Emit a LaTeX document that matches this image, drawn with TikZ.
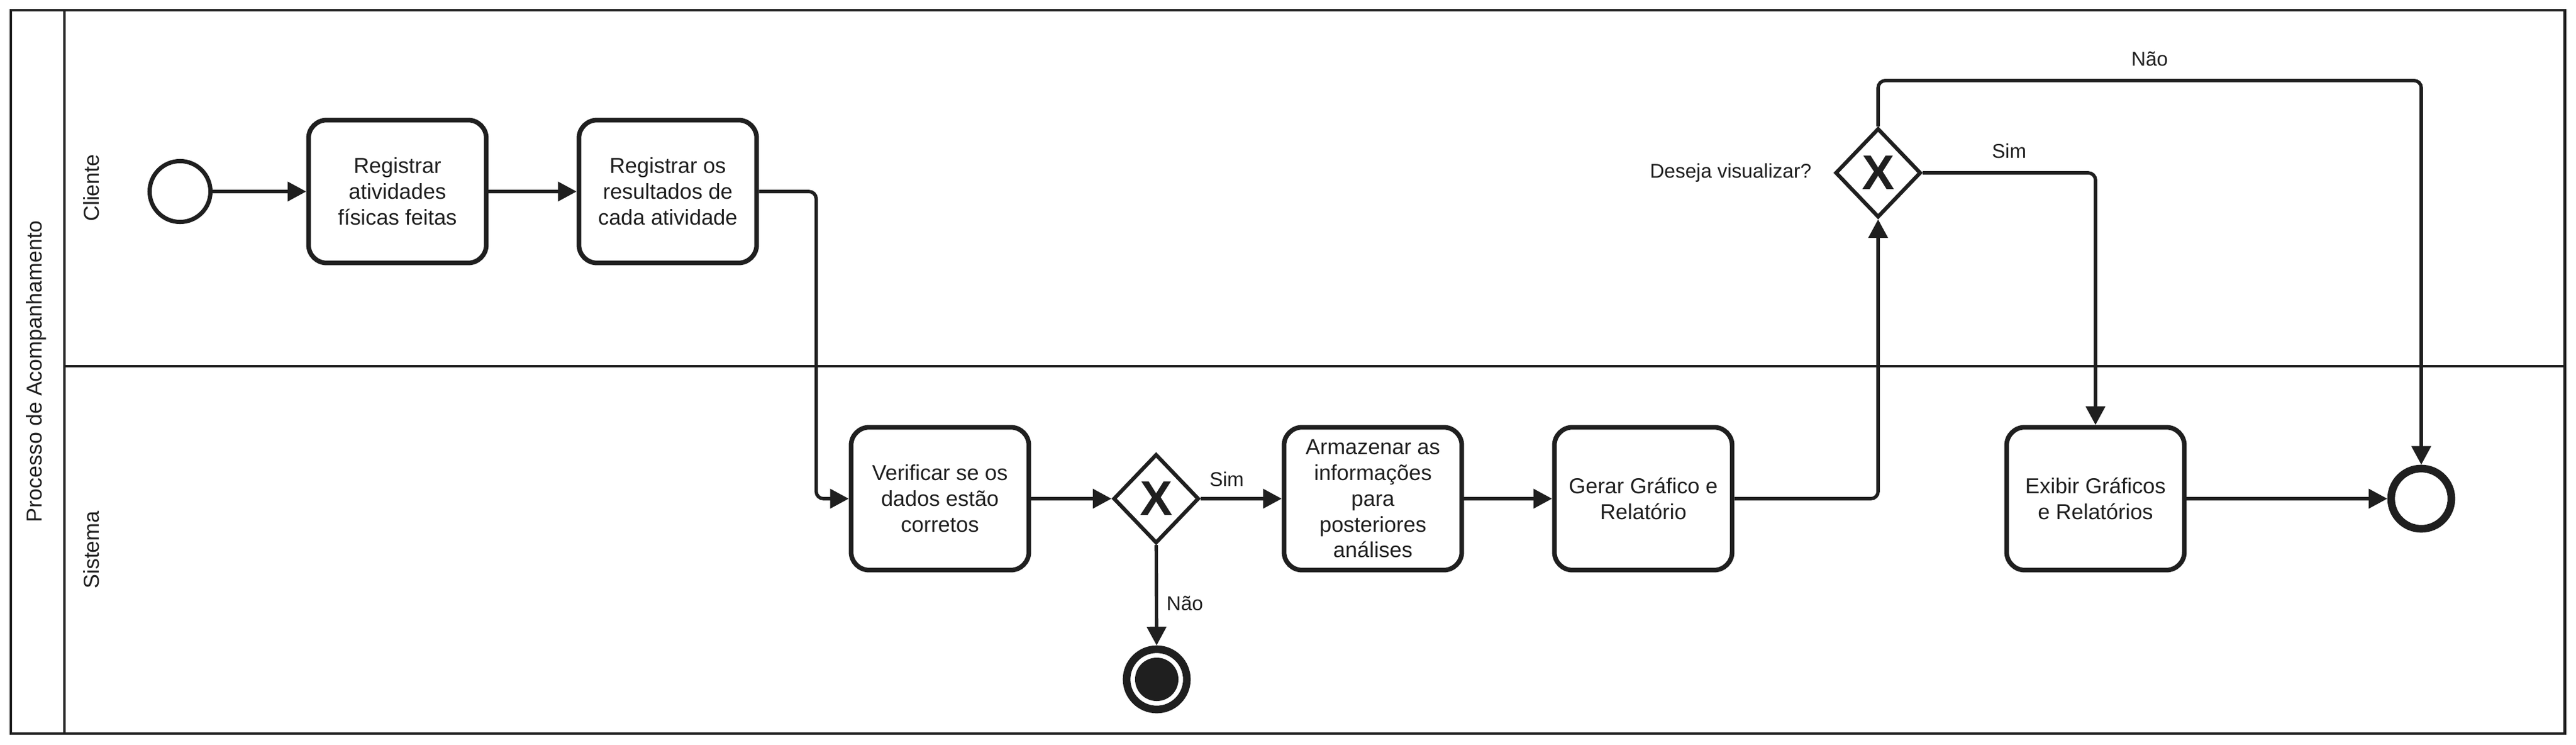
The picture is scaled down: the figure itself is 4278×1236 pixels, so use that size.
\documentclass[tikz,border=0pt]{standalone}
\usepackage{fontspec}
\setmainfont{Liberation Sans}
\usetikzlibrary{shapes.geometric,arrows.meta,positioning}
\definecolor{ink}{HTML}{1F1F1F}
\tikzset{
	task/.style={draw=ink, line width=2.2pt, rounded corners=0.3cm, minimum width=2.95cm, minimum height=2.37cm, align=center, text=ink, inner sep=0pt, font=\fontsize{10.2}{12.2}\selectfont},
	gateway/.style={draw=ink, line width=1.8pt, diamond, aspect=1, minimum width=1.42cm, minimum height=1.48cm, inner sep=0pt, text=ink, font=\fontsize{23}{23}\bfseries\selectfont},
	event/.style={draw=ink, circle, inner sep=0pt, line width=2pt, minimum size=1.01cm},
	endevent/.style={event, line width=3.6pt, minimum size=1.0cm},
	flow/.style={draw=ink, line width=1.6pt, rounded corners=0.12cm, -{Triangle[length=8.8pt,width=9pt]}},
	lbl/.style={text=ink, inner sep=2pt, font=\fontsize{9.4}{11}\selectfont},
	lanelbl/.style={text=ink, rotate=90, font=\fontsize{10.2}{12}\selectfont}
}
\begin{document}
\begin{tikzpicture}[x=0.01cm,y=-0.01cm]
		\useasboundingbox (0,0) rectangle (4278,1236);
		
		% pool and lanes
		\draw[ink, line width=1.4pt] (18,17) rectangle (4259,1218);
		\draw[ink, line width=1.4pt] (107,17) -- (107,1218);
		\draw[ink, line width=1.4pt] (107,608) -- (4259,608);
		
		\node[lanelbl] (pool) at (60,617) {Processo de Acompanhamento};
		\node[lanelbl] (cliente) at (152,312) {Cliente};
		\node[lanelbl] (sistema) at (152,913) {Sistema};
		
		% Cliente
		\node[event] (start) at (299,318) {};
		\node[task] (t1) at (660,318) {Registrar\\atividades\\físicas feitas};
		\node[task] (t2) at (1109,318) {Registrar os\\resultados de\\cada atividade};
		\node[gateway] (gw2) at (3119,287) {X};
		\node[lbl, anchor=east] (quest) at (3016,287) {Deseja visualizar?};
		
		% Sistema
		\node[task] (t3) at (1561,828) {Verificar se os\\dados estão\\corretos};
		\node[gateway] (gw1) at (1920,828) {X};
		\node[task] (t4) at (2280,828) {Armazenar as\\informações\\para\\posteriores\\análises};
		\node[task] (t5) at (2729,828) {Gerar Gráfico e\\Relatório};
		\node[task] (t6) at (3480,828) {Exibir Gráficos\\e Relatórios};
		\node[endevent] (endx) at (1921,1128) {};
		\fill[ink] (endx) circle (0.36cm);
		\node[endevent] (endv) at (4021,828) {};
		
		\draw[flow] (start) -- (t1);
		\draw[flow] (t1) -- (t2);
		\draw[flow] (t2.east) -- ++(95,0) |- (t3.west);
		\draw[flow] (t3) -- (gw1);
		\draw[flow] (gw1) -- node[lbl, pos=0.32, above=3pt] {Sim} (t4);
		\draw[flow] (gw1) -- node[lbl, pos=0.58, right=2pt] {Não} (endx);
		\draw[flow] (t4) -- (t5);
		\draw[flow] (t5.east) -| (gw2.south);
		\draw[flow] (gw2.east) -| node[lbl, pos=0.25, above=4pt] {Sim} (t6.north);
		\draw[flow] (gw2.north) -- ++(0,-76) -| node[lbl, pos=0.25, above=4pt] {Não} (endv.north);
		\draw[flow] (t6) -- (endv);
	\end{tikzpicture}
\end{document}
